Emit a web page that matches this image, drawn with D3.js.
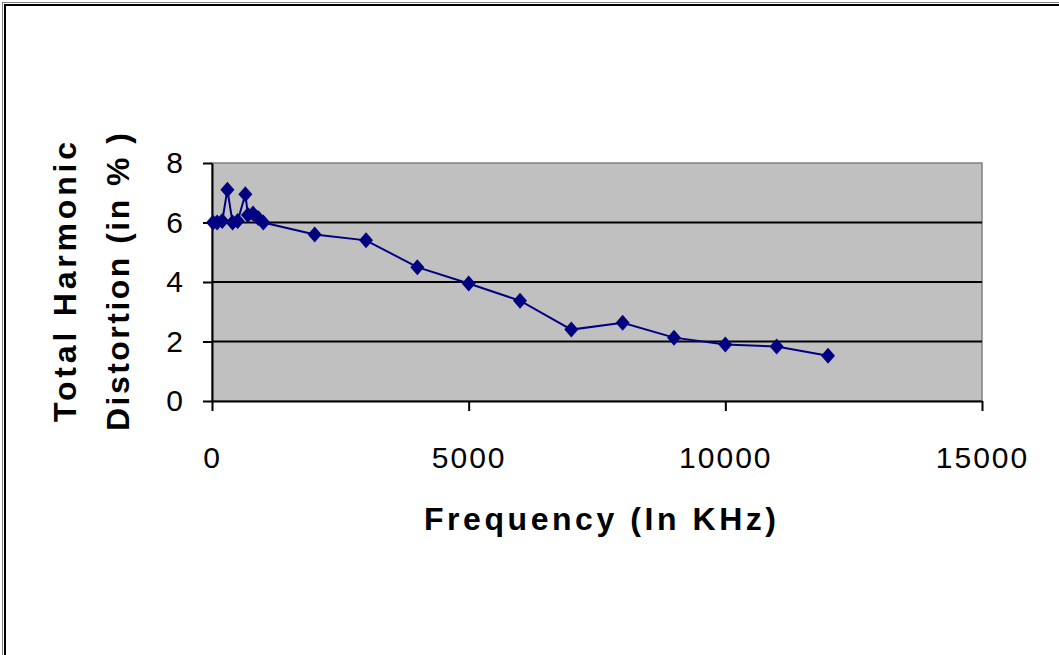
<!DOCTYPE html>
<html>
<head>
<meta charset="utf-8">
<script src="https://cdn.jsdelivr.net/npm/d3@7"></script>
<style>
html,body{margin:0;padding:0;background:#fff;}
svg{display:block;}
text{font-family:Arial,"Liberation Sans",sans-serif;fill:#000;}
</style>
</head>
<body>
<svg id="chart" width="1059" height="655"></svg>
<script>
// Data
const frequency = [20, 100, 200, 300, 400, 500, 650, 700, 800, 900, 1000, 2000, 3000, 4000, 5000, 6000, 7000, 8000, 9000, 10000, 11000, 12000];
const thd       = [6.0, 6.0, 6.05, 7.1, 6.0, 6.05, 6.95, 6.25, 6.3, 6.15, 6.0, 5.6, 5.4, 4.5, 3.95, 3.37, 2.4, 2.63, 2.13, 1.9, 1.83, 1.52];
const xTicks = [0, 5000, 10000, 15000];
const yTicks = [0, 2, 4, 6, 8];
const xTitle = "Frequency (In KHz)";
const yTitleLines = ["Total Harmonic", "Distortion (in % )"];

const svg = d3.select("#chart");
const W = 1059, H = 655;
const plot = {left: 212, right: 982, top: 163, bottom: 401};

// outer frame
svg.append("rect").attr("x", 2.5).attr("y", 2.5).attr("width", W + 20).attr("height", H + 20)
  .attr("fill", "none").attr("stroke", "#808080").attr("stroke-width", 1);
svg.append("rect").attr("x", 5).attr("y", 5).attr("width", W + 20).attr("height", H + 20)
  .attr("fill", "#fff").attr("stroke", "#000").attr("stroke-width", 2);

const x = d3.scaleLinear().domain([0, 15000]).range([plot.left, plot.right]);
const y = d3.scaleLinear().domain([0, 8]).range([plot.bottom, plot.top]);

// plot area
svg.append("rect").attr("x", plot.left).attr("y", plot.top)
  .attr("width", plot.right - plot.left).attr("height", plot.bottom - plot.top)
  .attr("fill", "#c0c0c0").attr("stroke", "#808080").attr("stroke-width", 1.5);

// gridlines
svg.append("g").selectAll("line").data(yTicks.filter(d => d > 0 && d < 8)).join("line")
  .attr("x1", plot.left).attr("x2", plot.right)
  .attr("y1", d => y(d)).attr("y2", d => y(d))
  .attr("stroke", "#000").attr("stroke-width", 2);

// axes
const font = "Arial, 'Liberation Sans', sans-serif";
const xAxis = d3.axisBottom(x).tickValues(xTicks).tickSize(10).tickSizeOuter(0).tickPadding(36).tickFormat(d3.format("d"));
const gx = svg.append("g").attr("transform", `translate(0,${plot.bottom})`).call(xAxis);
gx.select(".domain").attr("stroke", "#000").attr("stroke-width", 2);
gx.selectAll(".tick line").attr("stroke", "#000").attr("stroke-width", 2);
gx.selectAll(".tick text").attr("font-size", 30).attr("letter-spacing", 2).attr("fill", "#000")
  .attr("font-family", font);

const yAxis = d3.axisLeft(y).tickValues(yTicks).tickSize(9).tickSizeOuter(0).tickPadding(20).tickFormat(d3.format("d"));
const gy = svg.append("g").attr("transform", `translate(${plot.left},0)`).call(yAxis);
gy.select(".domain").attr("stroke", "#000").attr("stroke-width", 2);
gy.selectAll(".tick line").attr("stroke", "#000").attr("stroke-width", 2);
gy.selectAll(".tick text").attr("font-size", 30).attr("fill", "#000")
  .attr("font-family", font);

// series line
const pts = frequency.map((f, i) => [f, thd[i]]);
svg.append("path").datum(pts)
  .attr("d", d3.line().x(d => x(d[0])).y(d => y(d[1])))
  .attr("fill", "none").attr("stroke", "#000080").attr("stroke-width", 2);

// markers
svg.append("g").selectAll("path").data(pts).join("path")
  .attr("transform", d => `translate(${x(d[0])},${y(d[1])})`)
  .attr("d", "M0,-8L7,0L0,8L-7,0Z")
  .attr("fill", "#000080");

// titles
svg.append("text").attr("x", 600).attr("y", 530)
  .attr("text-anchor", "middle").attr("font-size", 32).attr("font-weight", "bold")
  .attr("textLength", 352).attr("lengthAdjust", "spacing")
  .text(xTitle);

const yc = (plot.top + plot.bottom) / 2;
svg.append("text").attr("transform", `translate(76,${yc}) rotate(-90)`)
  .attr("text-anchor", "middle").attr("font-size", 32).attr("font-weight", "bold")
  .attr("textLength", 280).attr("lengthAdjust", "spacing")
  .text(yTitleLines[0]);
svg.append("text").attr("transform", `translate(129,${yc}) rotate(-90)`)
  .attr("text-anchor", "middle").attr("font-size", 32).attr("font-weight", "bold")
  .attr("textLength", 298).attr("lengthAdjust", "spacing")
  .text(yTitleLines[1]);
</script>
</body>
</html>
